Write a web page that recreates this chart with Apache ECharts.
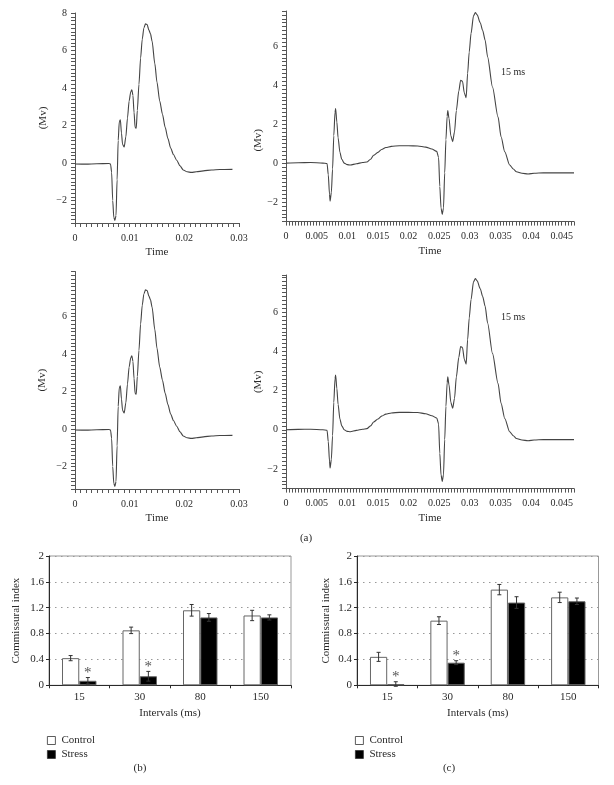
<!DOCTYPE html>
<html><head><meta charset="utf-8">
<script src="https://cdn.jsdelivr.net/npm/echarts@6/dist/echarts.min.js"></script>
<style>html,body{margin:0;padding:0;background:#fff}#c{width:614px;height:785px}</style>
</head><body><div id="c"></div>
<script>
// ---- Trace A (single stimulus): time (s) / potential (Mv)
const traceATime = [0,0.002,0.004,0.0062,0.0065,0.0067,0.0069,0.0071,0.0073,0.0075,0.0077,0.0079,0.0081,0.0083,0.0085,0.0087,0.0090,0.0093,0.0096,0.0099,0.0102,0.0104,0.0106,0.0108,0.0110,0.0112,0.0114,0.0117,0.0120,0.0123,0.0126,0.0129,0.0132,0.0135,0.0138,0.0141,0.0146,0.0150,0.0155,0.0160,0.0165,0.0170,0.0175,0.0180,0.0186,0.0192,0.0198,0.0205,0.0213,0.0222,0.0235,0.0250,0.0265,0.0288];
const traceAVolt = [-0.05,-0.06,-0.04,-0.03,-0.05,-0.5,-2.0,-2.9,-3.07,-2.8,-0.9,1.2,2.2,2.3,1.6,1.0,0.85,1.4,2.4,3.3,3.8,3.9,3.6,2.7,1.9,1.85,2.8,4.2,5.6,6.6,7.2,7.42,7.38,7.1,6.9,6.5,5.3,4.3,3.3,2.6,1.9,1.3,0.8,0.45,0.15,-0.15,-0.37,-0.47,-0.5,-0.47,-0.42,-0.37,-0.35,-0.34];
// ---- Trace B (paired stimuli, 15 ms)
const traceBTime = [0,0.002,0.004,0.0060,0.0067,0.0069,0.0071,0.0072,0.0074,0.0076,0.0078,0.0080,0.0081,0.0083,0.0085,0.0088,0.0091,0.0095,0.0100,0.0105,0.0115,0.0125,0.0132,0.0138,0.0143,0.0150,0.0156,0.0163,0.0172,0.0185,0.0200,0.0215,0.0228,0.0238,0.0246,0.0249,0.0251,0.0253,0.0255,0.0257,0.0259,0.0261,0.0263,0.0264,0.0266,0.0269,0.0272,0.0275,0.0278,0.0282,0.0285,0.0288,0.0291,0.0294,0.02964,0.0299,0.0302,0.0306,0.0309,0.0312,0.0317,0.0321,0.0325,0.0329,0.0337,0.0346,0.0351,0.0357,0.0365,0.0371,0.0376,0.0385,0.0395,0.0405,0.0420,0.0440,0.0470];
const traceBVolt = [0.0,0.02,0.03,0.0,-0.02,-0.6,-1.6,-1.95,-1.5,-0.3,1.4,2.6,2.8,2.1,1.3,0.55,0.2,0.0,-0.08,-0.1,-0.03,0.03,0.06,0.2,0.4,0.55,0.7,0.8,0.86,0.89,0.89,0.88,0.82,0.72,0.6,0.3,-1.2,-2.3,-2.63,-2.3,-0.5,1.2,2.4,2.7,2.3,1.4,1.1,1.6,2.7,3.7,4.25,4.2,3.6,3.35,4.6,5.7,6.65,7.55,7.72,7.6,7.2,6.8,6.3,5.45,3.9,2.37,1.35,0.58,-0.1,-0.3,-0.44,-0.52,-0.56,-0.52,-0.5,-0.5,-0.5];
// ---- Bar charts
const intervals = ['15','30','80','150'];
const controlB = [0.42,0.85,1.16,1.08];
const controlBErr = [0.04,0.05,0.09,0.08];
const stressB = [0.07,0.14,1.05,1.05];
const stressBErr = [0.05,0.075,0.06,0.04];
const sigB = [1,1,0,0];
const controlC = [0.44,1.00,1.48,1.36];
const controlCErr = [0.07,0.06,0.08,0.08];
const stressC = [0.02,0.35,1.28,1.30];
const stressCErr = [0.035,0.03,0.09,0.05];
const sigC = [1,1,0,0];

const FF = 'Liberation Serif';
const AX = '#555';
const TXT = '#2a2a2a';
const chart = echarts.init(document.getElementById('c'));

function isMult(v, s){ const r = v / s; return Math.abs(r - Math.round(r)) < 1e-6; }
function fmt(v){ const n = Math.round(v*100000)/100000; return String(n).replace('-', '\u2212'); }

function lineX(gi, max, step, labStep){
  return {type:'value', gridIndex:gi, min:0, max:max, interval:step,
    axisLine:{show:true, onZero:false, lineStyle:{color:AX, width:1}},
    axisTick:{show:true, length:4, lineStyle:{color:AX}},
    splitLine:{show:false},
    axisLabel:{margin:10, fontFamily:FF, fontSize:10, color:TXT, showMinLabel:true, showMaxLabel:true,
      formatter: v => isMult(v, labStep) ? fmt(v) : ''},
    name:'Time', nameLocation:'middle', nameGap:24,
    nameTextStyle:{fontFamily:FF, fontSize:11, color:TXT}};
}
function lineY(gi, min, max, labMax, gap, pad){
  return {type:'value', gridIndex:gi, min:min, max:max, interval:0.2,
    axisLine:{show:true, onZero:false, lineStyle:{color:AX, width:1}},
    axisTick:{show:true, length:4, lineStyle:{color:AX}},
    splitLine:{show:false},
    axisLabel:{margin:8, fontFamily:FF, fontSize:10, color:TXT, showMinLabel:true, showMaxLabel:true,
      formatter: v => (isMult(v, 2) && v > -2.5 && v < labMax + 0.1) ? fmt(v) : ''},
    name:'(Mv)', nameLocation:'middle', nameGap:gap,
    nameTextStyle:{fontFamily:FF, fontSize:11, color:TXT, padding:pad}};
}
function barX(gi){
  return {type:'category', gridIndex:gi, data:intervals,
    axisLine:{show:true, lineStyle:{color:TXT, width:1}},
    axisTick:{show:true, length:3, lineStyle:{color:TXT}},
    axisLabel:{margin:6, fontFamily:FF, fontSize:11, color:TXT},
    name:'Intervals (ms)', nameLocation:'middle', nameGap:22,
    nameTextStyle:{fontFamily:FF, fontSize:11, color:TXT}};
}
function barY(gi, gap){
  return {type:'value', gridIndex:gi, min:0, max:2, interval:0.4,
    axisLine:{show:true, lineStyle:{color:TXT, width:1}},
    axisTick:{show:true, length:3, lineStyle:{color:TXT}},
    splitLine:{show:true, lineStyle:{color:'#999', type:[1.5,4.5], width:1}},
    axisLabel:{margin:5, fontFamily:FF, fontSize:11, color:TXT},
    name:'Commissural index', nameLocation:'middle', nameGap:gap,
    nameTextStyle:{fontFamily:FF, fontSize:11, color:TXT}};
}
function trace(gi, t, v){
  return {type:'line', xAxisIndex:gi, yAxisIndex:gi, data:t.map((x,i)=>[x, v[i]]),
    showSymbol:false, symbol:'none', smooth:0.25, smoothMonotone:'x', clip:true,
    lineStyle:{color:'#444', width:1.1}, silent:true};
}
const BW = 0.285;
function bars(gi, name, vals, fill){
  return {type:'bar', name:name, xAxisIndex:gi, yAxisIndex:gi, data:vals,
    barWidth:(BW*100)+'%', barGap:'0%',
    itemStyle:{color:fill, borderColor:'#666', borderWidth:1}, silent:true};
}
function errs(gi, vals, ers, sig, side){
  return {type:'custom', xAxisIndex:gi, yAxisIndex:gi, z:5, silent:true,
    data: vals.map((v,i)=>[i, v+ers[i], v-ers[i], sig[i]]),
    encode:{x:0, y:[1,2]},
    renderItem:function(params, api){
      const i = api.value(0);
      const top = api.coord([i, api.value(1)]);
      const bot = api.coord([i, api.value(2)]);
      const band = api.size([1,0])[0];
      const x = top[0] + side * band * BW / 2;
      const c = 2;
      const ch = [
        {type:'line', shape:{x1:x, y1:top[1], x2:x, y2:bot[1]}, style:{stroke:'#333', lineWidth:1}},
        {type:'line', shape:{x1:x-c, y1:top[1], x2:x+c, y2:top[1]}, style:{stroke:'#333', lineWidth:1}},
        {type:'line', shape:{x1:x-c, y1:bot[1], x2:x+c, y2:bot[1]}, style:{stroke:'#333', lineWidth:1}}
      ];
      if (api.value(3)) ch.push({type:'text', style:{text:'*', x:x, y:top[1]+3, align:'center', verticalAlign:'bottom', font:'15px "'+FF+'"', fill:'#555'}});
      return {type:'group', children:ch};
    }};
}
function txt(x, y, s, size){
  return {type:'text', x:x, y:y, style:{text:s, font:size+'px "'+FF+'"', fill:TXT, align:'center', verticalAlign:'middle'}};
}
function legendAt(left){
  return {left:left, top:735, orient:'vertical', padding:0, itemGap:3, itemWidth:8, itemHeight:8, icon:'rect', selectedMode:false,
    itemStyle:{borderColor:'#333', borderWidth:0.8},
    data:['Control','Stress'], textStyle:{fontFamily:FF, fontSize:11, color:TXT, padding:[0,0,0,1]}};
}

chart.setOption({
  animation:false,
  backgroundColor:'#fff',
  grid:[
    {left:75, top:13, width:164, height:210},
    {left:286, top:11, width:288, height:210.6},
    {left:75, top:271.5, width:164, height:217.5},
    {left:286, top:275, width:288, height:213.6},
    {left:49, top:556, width:242, height:129.3, show:true, borderColor:'#999', borderWidth:1},
    {left:357, top:556, width:241.5, height:129.3, show:true, borderColor:'#999', borderWidth:1}
  ],
  xAxis:[lineX(0,0.03,0.001,0.01), lineX(1,0.047,0.0005,0.005), lineX(2,0.03,0.001,0.01), lineX(3,0.047,0.0005,0.005), barX(4), barX(5)],
  yAxis:[lineY(0,-3.2,8,8,26.5,0), lineY(1,-3,7.8,6,22.5,[0,48,0,0]), lineY(2,-3.2,8.4,6,27,0), lineY(3,-3,7.9,6,22.8,0), barY(4,27), barY(5,25.5)],
  legend:[legendAt(47), legendAt(355)],
  series:[
    trace(0, traceATime, traceAVolt),
    trace(1, traceBTime, traceBVolt),
    trace(2, traceATime, traceAVolt),
    trace(3, traceBTime, traceBVolt),
    bars(4,'Control',controlB,'#fff'), bars(4,'Stress',stressB,'#000'),
    bars(5,'Control',controlC,'#fff'), bars(5,'Stress',stressC,'#000'),
    errs(4, controlB, controlBErr, [0,0,0,0], -1), errs(4, stressB, stressBErr, sigB, 1),
    errs(5, controlC, controlCErr, [0,0,0,0], -1), errs(5, stressC, stressCErr, sigC, 1)
  ],
  graphic:[
    txt(513, 72, '15 ms', 10),
    txt(513, 317, '15 ms', 10),
    txt(306, 538, '(a)', 11),
    txt(140, 768, '(b)', 11),
    txt(449, 768, '(c)', 11)
  ]
});
</script></body></html>
